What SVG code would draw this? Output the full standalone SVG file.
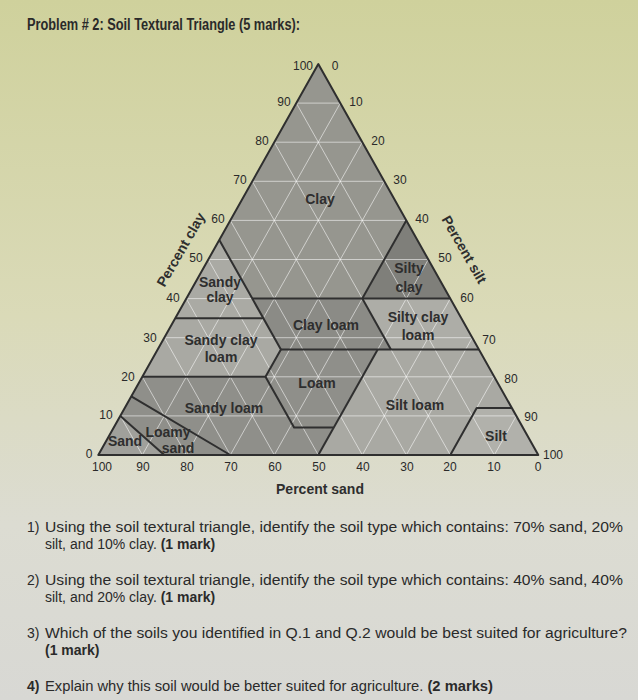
<svg xmlns="http://www.w3.org/2000/svg" width="638" height="700" viewBox="0 0 638 700">
<defs>
<linearGradient id="bg" x1="0" y1="0" x2="0" y2="1">
<stop offset="0" stop-color="#cfd19c"/>
<stop offset="0.45" stop-color="#dadab8"/>
<stop offset="0.75" stop-color="#dcdcd2"/>
<stop offset="1" stop-color="#d8d8d4"/>
</linearGradient>
</defs>
<style>
.t{font-family:"Liberation Sans",Arial,sans-serif;fill:#2a2a2a}
.n{font-size:12px;text-anchor:middle}
.r{font-size:14px;font-weight:bold;text-anchor:middle;fill:#2e2e2e}
.q{font-size:14px}
.b{font-weight:bold}
.g line{stroke:#ffffff;stroke-opacity:0.55;stroke-width:1}
.bd{fill:none;stroke:#2f2f2f;stroke-width:2;stroke-linejoin:round}
.reg{stroke:none}
</style>
<rect width="638" height="700" fill="url(#bg)"/>
<text class="t b" x="27" y="30" font-size="16" textLength="273" lengthAdjust="spacingAndGlyphs">Problem # 2: Soil Textural Triangle (5 marks):</text>

<g id="fills">
<polygon class="reg" fill="#96968f" points="318.3,64 219.3,240 252.3,298.6 362.3,298.6 406.3,220.4"/>
<polygon class="reg" fill="#7f7f7a" points="406.3,220.4 362.3,298.6 450.3,298.6"/>
<polygon class="reg" fill="#aaaaa4" points="219.3,240 175.3,318.2 263.3,318.2"/>
<polygon class="reg" fill="#8b8b86" points="252.3,298.6 362.3,298.6 390.9,349.4 280.9,349.4"/>
<polygon class="reg" fill="#adada7" points="362.3,298.6 450.3,298.6 478.9,349.4 390.9,349.4"/>
<polygon class="reg" fill="#a9a9a3" points="175.3,318.2 263.3,318.2 280.9,349.4 265.5,376.8 142.3,376.8"/>
<polygon class="reg" fill="#8f8f8a" points="280.9,349.4 377.7,349.4 333.7,427.6 294.1,427.6 265.5,376.8"/>
<polygon class="reg" fill="#8f8f8a" points="142.3,376.8 265.5,376.8 294.1,427.6 333.7,427.6 318.3,455 230.3,455 131.3,396.4"/>
<polygon class="reg" fill="#a9a9a3" points="377.7,349.4 478.9,349.4 511.9,408.1 476.7,408.1 450.3,455 318.3,455 333.7,427.6"/>
<polygon class="reg" fill="#b1b1ab" points="476.7,408.1 511.9,408.1 538.3,455 450.3,455"/>
<polygon class="reg" fill="#8f8f8a" points="131.3,396.4 230.3,455 164.3,455 120.3,415.9"/>
<polygon class="reg" fill="#a0a09b" points="120.3,415.9 164.3,455 98.3,455"/>
</g>

<g class="g" id="grid">
<line x1="120.3" y1="415.9" x2="516.3" y2="415.9"/><line x1="142.3" y1="376.8" x2="494.3" y2="376.8"/><line x1="164.3" y1="337.7" x2="472.3" y2="337.7"/><line x1="186.3" y1="298.6" x2="450.3" y2="298.6"/><line x1="208.3" y1="259.5" x2="428.3" y2="259.5"/><line x1="230.3" y1="220.4" x2="406.3" y2="220.4"/><line x1="252.3" y1="181.3" x2="384.3" y2="181.3"/><line x1="274.3" y1="142.2" x2="362.3" y2="142.2"/><line x1="296.3" y1="103.1" x2="340.3" y2="103.1"/>
<line x1="142.3" y1="455" x2="120.3" y2="415.9"/><line x1="186.3" y1="455" x2="142.3" y2="376.8"/><line x1="230.3" y1="455" x2="164.3" y2="337.7"/><line x1="274.3" y1="455" x2="186.3" y2="298.6"/><line x1="318.3" y1="455" x2="208.3" y2="259.5"/><line x1="362.3" y1="455" x2="230.3" y2="220.4"/><line x1="406.3" y1="455" x2="252.3" y2="181.3"/><line x1="450.3" y1="455" x2="274.3" y2="142.2"/><line x1="494.3" y1="455" x2="296.3" y2="103.1"/>
<line x1="142.3" y1="455" x2="340.3" y2="103.1"/><line x1="186.3" y1="455" x2="362.3" y2="142.2"/><line x1="230.3" y1="455" x2="384.3" y2="181.3"/><line x1="274.3" y1="455" x2="406.3" y2="220.4"/><line x1="318.3" y1="455" x2="428.3" y2="259.5"/><line x1="362.3" y1="455" x2="450.3" y2="298.6"/><line x1="406.3" y1="455" x2="472.3" y2="337.7"/><line x1="450.3" y1="455" x2="494.3" y2="376.8"/><line x1="494.3" y1="455" x2="516.3" y2="415.9"/>
</g>

<g id="connectors">
<polygon class="bd" points="318.3,64 98.3,455 538.3,455"/>
<polyline class="bd" points="219.3,240 252.3,298.6 280.9,349.4 265.5,376.8 294.1,427.6 333.7,427.6"/>
<polyline class="bd" points="175.3,318.2 263.3,318.2"/>
<polyline class="bd" points="252.3,298.6 450.3,298.6"/>
<polyline class="bd" points="406.3,220.4 362.3,298.6 390.9,349.4"/>
<polyline class="bd" points="280.9,349.4 478.9,349.4"/>
<polyline class="bd" points="142.3,376.8 265.5,376.8"/>
<polyline class="bd" points="377.7,349.4 318.3,455"/>
<polyline class="bd" points="131.3,396.4 230.3,455"/>
<polyline class="bd" points="120.3,415.9 164.3,455"/>
<polyline class="bd" points="450.3,455 476.7,408.1 511.9,408.1"/>
</g>

<g id="clay"><text class="t r" x="320" y="204">Clay</text></g>
<g id="silty-clay"><text class="t r" x="409" y="273">Silty</text><text class="t r" x="409" y="292">clay</text></g>
<g id="sandy-clay"><text class="t r" x="220" y="287">Sandy</text><text class="t r" x="220" y="302">clay</text></g>
<g id="clay-loam"><text class="t r" x="326" y="330">Clay loam</text></g>
<g id="silty-clay-loam"><text class="t r" x="418" y="322">Silty clay</text><text class="t r" x="418" y="340">loam</text></g>
<g id="sandy-clay-loam"><text class="t r" x="221" y="345">Sandy clay</text><text class="t r" x="221" y="362">loam</text></g>
<g id="loam"><text class="t r" x="317" y="388">Loam</text></g>
<g id="sandy-loam"><text class="t r" x="224" y="413">Sandy loam</text></g>
<g id="silt-loam"><text class="t r" x="415" y="410">Silt loam</text></g>
<g id="silt"><text class="t r" x="496" y="441">Silt</text></g>
<g id="loamy-sand"><text class="t r" x="168" y="437" font-size="10">Loamy</text><text class="t r" x="178" y="453" font-size="10">sand</text></g>
<g id="sand"><text class="t r" x="125" y="446" font-size="10">Sand</text></g>

<g id="axes" class="t">
<text class="n" x="303" y="70">100</text><text class="n" x="335" y="70">0</text>
<text class="n" x="284" y="106">90</text><text class="n" x="262" y="145">80</text><text class="n" x="240" y="184">70</text><text class="n" x="218" y="223">60</text><text class="n" x="196" y="262">50</text><text class="n" x="173" y="302">40</text><text class="n" x="150" y="342">30</text><text class="n" x="128" y="381">20</text><text class="n" x="106" y="419">10</text><text class="n" x="89" y="458">0</text>
<text class="n" x="356" y="106">10</text><text class="n" x="378" y="145">20</text><text class="n" x="400" y="184">30</text><text class="n" x="422" y="223">40</text><text class="n" x="445" y="262">50</text><text class="n" x="467" y="302">60</text><text class="n" x="489" y="344">70</text><text class="n" x="511" y="383">80</text><text class="n" x="531" y="421">90</text><text class="n" x="553" y="459">100</text>
<text class="n" x="102" y="471">100</text><text class="n" x="143" y="471">90</text><text class="n" x="187" y="471">80</text><text class="n" x="231" y="471">70</text><text class="n" x="275" y="471">60</text><text class="n" x="319" y="471">50</text><text class="n" x="363" y="471">40</text><text class="n" x="407" y="471">30</text><text class="n" x="450" y="471">20</text><text class="n" x="494" y="471">10</text><text class="n" x="538" y="471">0</text>
<text class="t r" x="320" y="494" font-size="14">Percent sand</text>
<text class="t r" x="185" y="252" transform="rotate(-60 185 252)">Percent clay</text>
<text class="t r" x="460" y="252" transform="rotate(60 460 252)">Percent silt</text>
</g>

<g id="questions" class="t q">
<text x="27" y="532">1)</text><text x="45" y="532" textLength="578" lengthAdjust="spacingAndGlyphs">Using the soil textural triangle, identify the soil type which contains: 70% sand, 20%</text>
<text x="45" y="549">silt, and 10% clay. <tspan class="b">(1 mark)</tspan></text>
<text x="27" y="585">2)</text><text x="45" y="585" textLength="578" lengthAdjust="spacingAndGlyphs">Using the soil textural triangle, identify the soil type which contains: 40% sand, 40%</text>
<text x="45" y="602">silt, and 20% clay. <tspan class="b">(1 mark)</tspan></text>
<text x="27" y="638">3)</text><text x="45" y="638" textLength="582" lengthAdjust="spacingAndGlyphs">Which of the soils you identified in Q.1 and Q.2 would be best suited for agriculture?</text>
<text x="45" y="655" class="b">(1 mark)</text>
<text x="27" y="691" class="b">4)</text><text x="45" y="691" textLength="448" lengthAdjust="spacingAndGlyphs">Explain why this soil would be better suited for agriculture. <tspan class="b">(2 marks)</tspan></text>
</g>
</svg>
